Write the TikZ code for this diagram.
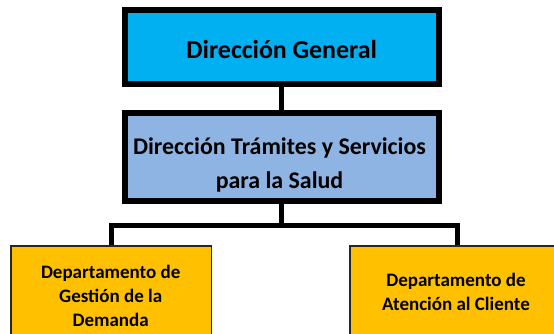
\documentclass[tikz,border=0pt]{standalone}
\usepackage{fontspec}
\setmainfont{Carlito}
\definecolor{topblue}{HTML}{00B0F0}
\definecolor{midblue}{HTML}{8EB4E3}
\definecolor{gold}{HTML}{FFC000}
\begin{document}
\begin{tikzpicture}[x=1bp,y=-1bp,
  bigbox/.style={draw=black, line width=6bp, rectangle, inner sep=0pt},
  deptbox/.style={draw=black!85, line width=1.3bp, fill=gold, rectangle, inner sep=0pt},
  lbl/.style={anchor=base, inner sep=0pt, font=\bfseries},
  toptxt/.style={lbl, font=\fontsize{25.9bp}{30bp}\selectfont\bfseries},
  midtxt/.style={lbl, font=\fontsize{23.9bp}{30bp}\selectfont\bfseries},
  deptxt/.style={lbl, font=\fontsize{19bp}{24bp}\selectfont\bfseries},
  link/.style={draw=black, line width=5bp}]
\useasboundingbox (0,0) rectangle (554,333);
\node[bigbox, fill=topblue, minimum width=314bp, minimum height=73.4bp] (dg) at (281.7,47) {};
\node[toptxt] (dgt) at (281.7,58.3) {Dirección General};
\node[bigbox, fill=midblue, minimum width=314bp, minimum height=88bp] (dts) at (281.7,157) {};
\node[midtxt] (dts1) at (279.5,154) {Dirección Trámites y Servicios};
\node[midtxt] (dts2) at (279.5,188) {para la Salud};
\node[deptbox, minimum width=200.7bp, minimum height=100bp] (gd) at (111.3,296) {};
\node[deptxt] (gd1) at (110.7,278) {Departamento de};
\node[deptxt] (gd2) at (110.7,302) {Gestión de la};
\node[deptxt] (gd3) at (110.7,326) {Demanda};
\node[deptbox, minimum width=214bp, minimum height=92bp] (ac) at (457,292) {};
\node[deptxt] (ac1) at (456,286.5) {Departamento de};
\node[deptxt] (ac2) at (456,310) {Atención al Cliente};
\coordinate (bar) at (281.7,225);
\draw[link] (dg.south) -- (dts.north);
\draw[link] (dts.south) -- (bar);
\draw[link, line join=miter] (gd.north) |- (bar) -| (ac.north);
\end{tikzpicture}
\end{document}
